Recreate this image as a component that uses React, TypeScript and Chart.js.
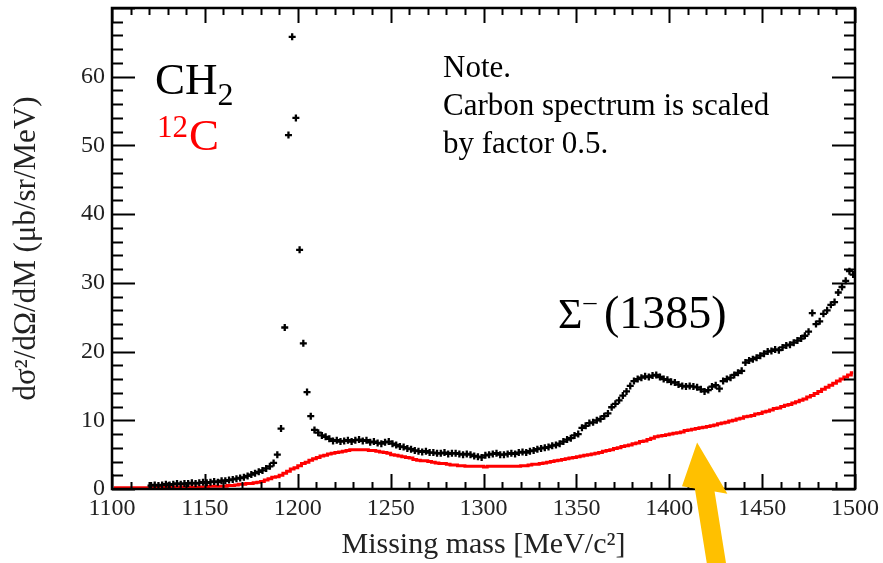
import React, { useEffect, useRef } from 'react';
import { Chart, registerables } from 'chart.js';

Chart.register(...registerables);

const FONT = '"Liberation Serif", "Times New Roman", Times, serif';

// Histogram binning (MeV)
const BIN_WIDTH = 2;
const CH2_FIRST_BIN = 1121;
const C12_FIRST_BIN = 1101;

// Axis ticks
const X_TICKS = [1100, 1150, 1200, 1250, 1300, 1350, 1400, 1450, 1500];
const Y_TICKS = [0, 10, 20, 30, 40, 50, 60];

// CH2 spectrum, d2sigma/dOmega/dM (ub/sr/MeV), bins from 1121 MeV
const CH2_VALUES = [
  0.5, 0.6, 0.5, 0.6, 0.7, 0.6, 0.7, 0.8, 0.7, 0.8,
  0.8, 0.9, 0.8, 0.9, 1.0, 0.9, 1.0, 1.1, 1.0, 1.2,
  1.2, 1.3, 1.4, 1.5, 1.6, 1.7, 1.9, 2.1, 2.3, 2.5,
  2.7, 3.0, 3.3, 3.8, 5.0, 8.8, 23.5, 51.5, 65.8, 54.0,
  34.8, 21.2, 14.1, 10.6, 8.6, 8.2, 7.8, 7.6, 7.3, 7.0,
  7.1, 6.9, 7.0, 7.1, 6.9, 7.1, 7.2, 7.0, 7.1, 6.8,
  6.9, 6.7, 6.6, 6.8, 6.9, 6.6, 6.4, 6.2, 6.1, 5.9,
  5.8, 5.6, 5.5, 5.4, 5.5, 5.3, 5.3, 5.2, 5.2, 5.3,
  5.1, 5.2, 5.2, 5.1, 5.0, 5.1, 5.0, 4.8, 4.7, 4.6,
  4.9, 5.0, 5.1, 5.2, 5.0, 5.0, 5.1, 5.2, 5.1, 5.3,
  5.4, 5.3, 5.5, 5.6, 5.8, 5.9, 6.0, 6.1, 6.3, 6.4,
  6.6, 6.9, 7.2, 7.4, 7.8, 8.0, 8.9, 9.2, 9.6, 9.7,
  10.0, 10.2, 10.6, 11.0, 11.9, 12.4, 12.9, 13.6, 14.2, 15.0,
  15.7, 16.0, 16.2, 16.4, 16.3, 16.5, 16.6, 16.3, 16.0, 15.9,
  15.6, 15.5, 15.2, 15.0, 14.9, 15.0, 14.9, 14.8, 14.5, 14.2,
  14.4, 14.9, 15.1, 14.6, 15.7, 16.0, 16.2, 16.6, 16.9, 17.2,
  18.4, 18.7, 18.9, 19.1, 19.4, 19.7, 20.0, 20.1, 20.3, 20.2,
  20.6, 20.9, 21.0, 21.3, 21.6, 21.9, 22.3, 22.9, 25.6, 24.0,
  24.4, 25.5, 26.0, 26.8, 27.2, 28.6, 29.4, 30.3, 31.7, 31.2,
];

// 12C spectrum (scaled by 0.5), bins from 1101 MeV
const C12_VALUES = [
  0.2, 0.2, 0.2, 0.2, 0.2, 0.2, 0.2, 0.2, 0.2, 0.2,
  0.2, 0.2, 0.3, 0.3, 0.3, 0.3, 0.3, 0.3, 0.3, 0.3,
  0.3, 0.3, 0.3, 0.3, 0.3, 0.3, 0.4, 0.4, 0.4, 0.4,
  0.4, 0.5, 0.5, 0.6, 0.7, 0.7, 0.8, 0.8, 0.9, 1.0,
  1.1, 1.3, 1.5, 1.7, 1.8, 2.0, 2.3, 2.6, 2.9, 3.1,
  3.4, 3.7, 3.9, 4.2, 4.4, 4.6, 4.8, 4.9, 5.1, 5.2,
  5.3, 5.4, 5.5, 5.6, 5.7, 5.7, 5.7, 5.7, 5.7, 5.6,
  5.6, 5.5, 5.4, 5.3, 5.2, 5.0, 4.9, 4.8, 4.7, 4.6,
  4.5, 4.3, 4.2, 4.1, 4.1, 4.0, 3.9, 3.8, 3.7, 3.7,
  3.6, 3.5, 3.5, 3.4, 3.4, 3.3, 3.3, 3.3, 3.3, 3.3,
  3.2, 3.3, 3.3, 3.3, 3.3, 3.3, 3.3, 3.3, 3.3, 3.3,
  3.4, 3.4, 3.5, 3.6, 3.6, 3.7, 3.8, 3.9, 4.0, 4.1,
  4.2, 4.3, 4.4, 4.5, 4.6, 4.7, 4.8, 4.9, 5.0, 5.1,
  5.2, 5.3, 5.5, 5.6, 5.7, 5.9, 6.0, 6.2, 6.3, 6.4,
  6.6, 6.7, 6.9, 7.0, 7.2, 7.4, 7.6, 7.7, 7.8, 7.9,
  8.0, 8.1, 8.2, 8.3, 8.5, 8.6, 8.7, 8.8, 8.9, 9.0,
  9.1, 9.2, 9.3, 9.5, 9.6, 9.7, 9.9, 10.0, 10.2, 10.3,
  10.5, 10.6, 10.7, 10.9, 11.0, 11.2, 11.3, 11.5, 11.7, 11.8,
  12.0, 12.2, 12.3, 12.5, 12.7, 12.9, 13.1, 13.4, 13.6, 13.9,
  14.2, 14.5, 14.8, 15.1, 15.4, 15.7, 16.0, 16.3, 16.6, 16.9,
];

// Arrow annotation tip (data coordinates)
const ARROW_TIP = { x: 1415, y: 6.75 };

const toPoints = (first: number, vals: number[]) =>
  vals.map((v, i) => ({ x: first + i * BIN_WIDTH, y: v }));

const decorPlugin = {
  id: 'decor',
  afterDatasetsDraw(chart: any) {
    const { ctx, chartArea: a, scales } = chart;
    const xs = scales.x;
    const ys = scales.y;
    ctx.save();
    ctx.strokeStyle = '#000';
    ctx.lineWidth = 2;
    ctx.beginPath();
    for (let v = 1100; v <= 1500; v += 10) {
      const px = Math.round(xs.getPixelForValue(v)) + 0.5;
      const L = v % 50 === 0 ? 15 : 7;
      ctx.moveTo(px, a.bottom);
      ctx.lineTo(px, a.bottom - L);
      ctx.moveTo(px, a.top);
      ctx.lineTo(px, a.top + L);
    }
    for (let v = 0; v <= 70; v += 2) {
      const py = Math.round(ys.getPixelForValue(v)) + 0.5;
      const L = v % 10 === 0 ? 23 : 11;
      ctx.moveTo(a.left, py);
      ctx.lineTo(a.left + L, py);
      ctx.moveTo(a.right, py);
      ctx.lineTo(a.right - L, py);
    }
    ctx.stroke();
    ctx.lineWidth = 2.5;
    ctx.strokeRect(a.left, a.top, a.right - a.left, a.bottom - a.top);
    ctx.restore();
  },
  afterDraw(chart: any) {
    const { ctx, scales } = chart;
    ctx.save();
    ctx.textBaseline = 'alphabetic';
    ctx.textAlign = 'left';
    // CH2
    ctx.fillStyle = '#000';
    ctx.font = `45px ${FONT}`;
    ctx.fillText('CH', 155, 94);
    const wCH = ctx.measureText('CH').width;
    ctx.font = `32px ${FONT}`;
    ctx.fillText('2', 155 + wCH, 105);
    // 12C
    ctx.fillStyle = '#ff0000';
    ctx.font = `31px ${FONT}`;
    ctx.fillText('12', 157, 137);
    const w12 = ctx.measureText('12').width;
    ctx.font = `45px ${FONT}`;
    ctx.fillText('C', 157 + w12 + 1, 150);
    // Note
    ctx.fillStyle = '#000';
    ctx.font = `31px ${FONT}`;
    ctx.fillText('Note.', 443, 77);
    ctx.fillText('Carbon spectrum is scaled', 443, 115);
    ctx.fillText('by factor 0.5.', 443, 153);
    // Sigma-(1385)
    ctx.font = `42px ${FONT}`;
    ctx.fillText('Σ', 558, 328);
    const wS = ctx.measureText('Σ').width;
    ctx.font = `26px ${FONT}`;
    ctx.fillText('–', 558 + wS + 1, 310);
    ctx.font = `46px ${FONT}`;
    ctx.fillText('(1385)', 604, 328);

    // Arrow
    const tx = scales.x.getPixelForValue(ARROW_TIP.x);
    const ty = scales.y.getPixelForValue(ARROW_TIP.y);
    const ux = -0.158, uy = -0.987; // direction toward tip
    const nx = 0.987, ny = 0.158;
    const headLen = 48, headHalf = 23, shaftHalf = 10, total = 150;
    const bx = tx - ux * headLen, by = ty - uy * headLen;
    const ex = tx - ux * total, ey = ty - uy * total;
    ctx.fillStyle = '#FFC000';
    ctx.beginPath();
    ctx.moveTo(tx, ty);
    ctx.lineTo(bx + nx * headHalf, by + ny * headHalf);
    ctx.lineTo(bx + nx * shaftHalf, by + ny * shaftHalf);
    ctx.lineTo(ex + nx * shaftHalf, ey + ny * shaftHalf);
    ctx.lineTo(ex - nx * shaftHalf, ey - ny * shaftHalf);
    ctx.lineTo(bx - nx * shaftHalf, by - ny * shaftHalf);
    ctx.lineTo(bx - nx * headHalf, by - ny * headHalf);
    ctx.closePath();
    ctx.fill();
    ctx.restore();
  },
};

export default function App() {
  const ref = useRef<HTMLCanvasElement | null>(null);

  useEffect(() => {
    if (!ref.current) return;
    const chart = new Chart(ref.current, {
      type: 'scatter',
      data: {
        datasets: [
          {
            label: 'CH2',
            data: toPoints(CH2_FIRST_BIN, CH2_VALUES),
            showLine: false,
            pointStyle: 'cross',
            pointRadius: 3.5,
            pointBorderWidth: 2.3,
            borderColor: '#000',
            backgroundColor: '#000',
          },
          {
            label: '12C',
            data: toPoints(C12_FIRST_BIN, C12_VALUES),
            showLine: true,
            stepped: 'middle',
            borderColor: '#ff0000',
            borderWidth: 3,
            pointRadius: 0,
            fill: false,
          },
        ],
      },
      options: {
        animation: false,
        responsive: false,
        devicePixelRatio: 1,
        layout: { padding: { left: 0, right: 28, top: 8, bottom: 0 } },
        plugins: { legend: { display: false }, tooltip: { enabled: false } },
        scales: {
          x: {
            type: 'linear',
            min: 1100,
            max: 1500,
            afterBuildTicks: (s: any) => {
              s.ticks = X_TICKS.map((v) => ({ value: v }));
            },
            afterFit: (s: any) => {
              s.height = 74;
              s.paddingLeft = 0;
              s.paddingRight = 0;
            },
            grid: { display: false, drawTicks: false },
            border: { display: false },
            ticks: {
              font: { family: FONT, size: 24 },
              color: '#222',
              padding: 5,
              maxRotation: 0,
              autoSkip: false,
              callback: (v: any) => String(v),
            },
            title: {
              display: true,
              text: 'Missing mass [MeV/c²]',
              font: { family: FONT, size: 30 },
              color: '#222',
              padding: { top: 0, bottom: 0 },
            },
          },
          y: {
            type: 'linear',
            min: 0,
            max: 70,
            afterBuildTicks: (s: any) => {
              s.ticks = Y_TICKS.map((v) => ({ value: v }));
            },
            afterFit: (s: any) => {
              s.width = 112;
              s.paddingTop = 0;
              s.paddingBottom = 0;
            },
            grid: { display: false, drawTicks: false },
            border: { display: false },
            ticks: {
              font: { family: FONT, size: 24 },
              color: '#222',
              padding: 7,
              autoSkip: false,
              callback: (v: any) => String(v),
            },
            title: {
              display: true,
              text: 'dσ²/dΩ/dM (μb/sr/MeV)',
              font: { family: FONT, size: 31 },
              color: '#222',
              padding: { top: 8, bottom: 0 },
            },
          },
        },
      },
      plugins: [decorPlugin],
    });
    return () => chart.destroy();
  }, []);

  return (
    <div style={{ position: 'fixed', left: 0, top: 0, width: 883, height: 563, background: '#fff' }}>
      <canvas ref={ref} width={883} height={563} style={{ width: 883, height: 563, display: 'block' }} />
    </div>
  );
}
